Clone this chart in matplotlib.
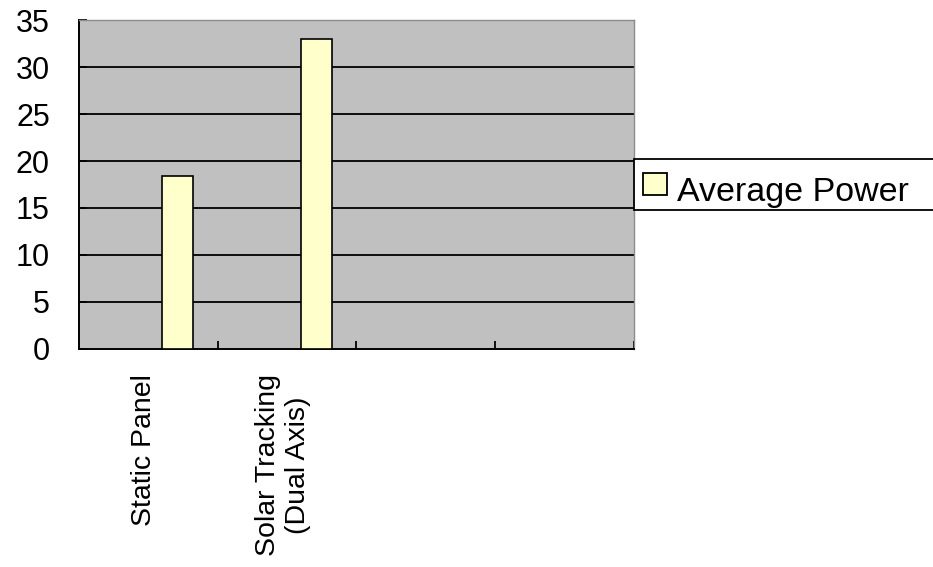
import matplotlib.pyplot as plt
from matplotlib.patches import Rectangle

# chart values
categories = ["Static Panel", "Solar Tracking\n(Dual Axis)"]
average_power = [18.4, 33.0]
n_slots = 4
series_name = "Average Power"

bar_color = "#FFFFCC"
plot_bg = "#C0C0C0"

plt.rcParams['font.family'] = ['Liberation Sans', 'DejaVu Sans']

fig = plt.figure(figsize=(9.33, 5.67), dpi=100)
ax = fig.add_axes([0.0847, 0.3845, 0.5948, 0.5802])
ax.set_facecolor(plot_bg)

# bars sit a little right of each category centre
centres = [i + 0.5 for i in range(len(categories))]
ax.bar([c + 0.21 for c in centres], average_power, width=0.22,
       color=bar_color, edgecolor='black', linewidth=1.2, zorder=3)

ax.set_xlim(0, n_slots)
ax.set_ylim(0, 35)
ax.set_yticks(range(0, 36, 5))
for y in range(5, 35, 5):
    ax.axhline(y, color='black', linewidth=1.3, zorder=2)

# category boundaries as inward ticks, labels on minor ticks
ax.set_xticks(range(1, n_slots + 1))
ax.set_xticklabels([])
ax.set_xticks([c - 0.03 for c in centres], minor=True)
ax.set_xticklabels(categories, minor=True, rotation=90, fontsize=20.5,
                   ha='center', va='top', multialignment='center')
ax.tick_params(axis='x', which='major', direction='in', length=6, width=1.3, color='black')
ax.tick_params(axis='x', which='minor', length=0, pad=18)
ax.tick_params(axis='y', direction='in', length=6, width=1.3, pad=21, labelsize=22)

for side in ['left', 'bottom']:
    ax.spines[side].set_color('black')
    ax.spines[side].set_linewidth(1.4)
for side in ['top', 'right']:
    ax.spines[side].set_color('#8C8C8C')
    ax.spines[side].set_linewidth(1.0)

# legend box running off the right edge
W, H = 933, 567
fig.patches.append(Rectangle((634 / W, 1 - 210 / H), 320 / W, 51 / H,
                             transform=fig.transFigure, facecolor='white',
                             edgecolor='black', linewidth=1.3, clip_on=False))
fig.patches.append(Rectangle((643 / W, 1 - 195 / H), 24 / W, 22 / H,
                             transform=fig.transFigure, facecolor=bar_color,
                             edgecolor='black', linewidth=1.3))
fig.text(677 / W, 1 - 192 / H, series_name, fontsize=24.5, va='center', ha='left')

fig.savefig('out.png', dpi=100)
